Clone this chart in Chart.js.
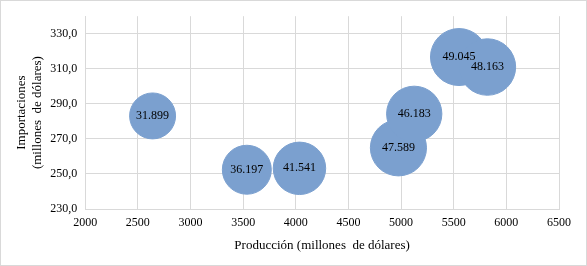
<!DOCTYPE html>
<html>
<head>
<meta charset="utf-8">
<script src="https://cdn.jsdelivr.net/npm/chart.js@4/dist/chart.umd.min.js"></script>
<style>
  html, body { margin: 0; padding: 0; background: #fff; }
  #wrap { width: 587px; height: 266px; box-sizing: border-box; border: 1px solid #d9d9d9; }
</style>
</head>
<body>
<div id="wrap"><canvas id="bubble-chart" width="585" height="264"></canvas></div>
<script>
// Producción vs importaciones, tamaño = etiqueta de la burbuja
var produccion = [2640, 3535, 4035, 4975, 5125, 5550, 5820];
var importaciones = [283.1, 252.4, 253.2, 264.9, 284.3, 316.7, 311.0];
var tamanos = [31.899, 36.197, 41.541, 47.589, 46.183, 49.045, 48.163];
var ticksY = [230, 250, 270, 290, 310, 330];

var puntos = [];
for (var i = 0; i < produccion.length; i++) {
    puntos.push({ x: produccion[i], y: importaciones[i], r: 4.07 * Math.sqrt(tamanos[i]) });
}

// etiquetas dentro de las burbujas
var etiquetas = {
    id: 'etiquetas',
    afterDatasetsDraw: function(chart) {
        var ctx = chart.ctx;
        var meta = chart.getDatasetMeta(0);
        ctx.save();
        ctx.font = '12px "Liberation Serif", "Times New Roman", serif';
        ctx.fillStyle = '#000';
        ctx.textAlign = 'center';
        ctx.textBaseline = 'middle';
        meta.data.forEach(function(el, i) {
            ctx.fillText(tamanos[i].toFixed(3), el.x, el.y);
        });
        ctx.restore();
    }
};

var fuente = { family: '"Liberation Serif", "Times New Roman", serif', size: 12 };

new Chart(document.getElementById('bubble-chart'), {
    type: 'bubble',
    data: {
        datasets: [{
            data: puntos,
            backgroundColor: '#7ba0cf',
            borderColor: '#7ba0cf',
            borderWidth: 1,
            hoverRadius: 0
        }]
    },
    options: {
        responsive: false,
        animation: false,
        layout: { autoPadding: false, padding: { left: 13, right: 27, top: 13, bottom: 12 } },
        plugins: {
            legend: { display: false },
            tooltip: { enabled: false }
        },
        scales: {
            x: {
                type: 'linear',
                min: 2000,
                max: 6500,
                grid: { color: '#d9d9d9', drawTicks: false },
                border: { color: '#d9d9d9' },
                ticks: {
                    stepSize: 500,
                    color: '#000',
                    font: fuente,
                    padding: 7,
                    callback: function(v) { return String(v); }
                },
                title: {
                    display: true,
                    text: 'Producción (millones  de dólares)',
                    color: '#000',
                    font: { family: fuente.family, size: 13 },
                    padding: { top: 0, bottom: 0 }
                }
            },
            y: {
                min: 230,
                max: 340,
                afterBuildTicks: function(scale) {
                    scale.ticks = ticksY.map(function(v) { return { value: v }; });
                },
                grid: { color: '#d9d9d9', drawTicks: false },
                border: { color: '#d9d9d9' },
                ticks: {
                    color: '#000',
                    font: fuente,
                    padding: 8,
                    callback: function(v) { return v.toFixed(1).replace('.', ','); }
                },
                title: {
                    display: true,
                    text: ['Importaciones', '(millones  de dólares)'],
                    color: '#000',
                    font: { family: fuente.family, size: 13, lineHeight: 1.2 },
                    padding: { top: 0, bottom: -3 }
                }
            }
        }
    },
    plugins: [etiquetas]
});
</script>
</body>
</html>
